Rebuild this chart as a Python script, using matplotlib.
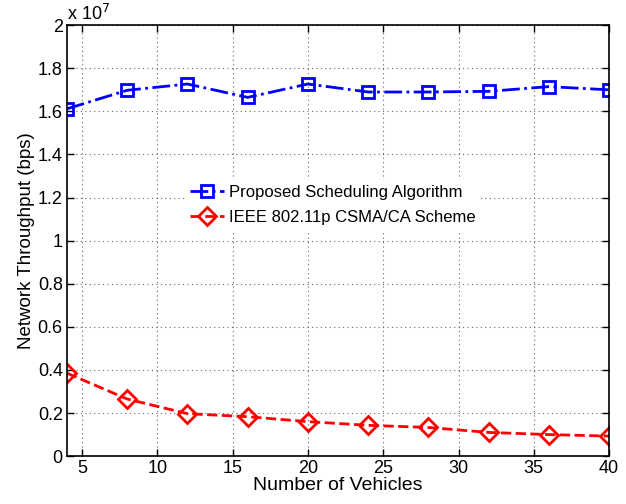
import numpy as np
import matplotlib.pyplot as plt
from matplotlib.ticker import FuncFormatter

plt.rcParams['font.family'] = ['Liberation Sans', 'DejaVu Sans']

# data (throughput in units of 1e7 bps)
vehicles = [4, 8, 12, 16, 20, 24, 28, 32, 36, 40]
proposed = [1.612, 1.698, 1.727, 1.665, 1.727, 1.690, 1.690, 1.693, 1.715, 1.700]
ieee = [0.385, 0.265, 0.197, 0.183, 0.160, 0.143, 0.133, 0.110, 0.100, 0.093]
labels = ['Proposed Scheduling Algorithm', 'IEEE 802.11p CSMA/CA Scheme']

fig = plt.figure(figsize=(6.26, 5.04), dpi=100)
ax = fig.add_axes([0.107, 0.095, 0.866, 0.855])

ax.plot(vehicles, np.array(proposed)*1e7, '-.', color='blue', lw=2,
        marker='s', ms=8, mfc='none', mew=2, label=labels[0])
ax.plot(vehicles, np.array(ieee)*1e7, '--', color='red', lw=2,
        marker='D', ms=9, mfc='none', mew=2, label=labels[1])

ax.set_xlim(4, 40)
ax.set_ylim(0, 2e7)
ax.set_xticks([5, 10, 15, 20, 25, 30, 35, 40])
ax.set_yticks(np.arange(0, 2.01e7, 0.2e7))
ax.yaxis.set_major_formatter(FuncFormatter(lambda v, p: '%g' % round(v/1e7, 1)))
ax.tick_params(direction='in', top=True, right=True, labelsize=13, length=5, width=1)
ax.tick_params(axis='x', pad=3)
ax.tick_params(axis='y', pad=3)
for s in ax.spines.values():
	s.set_linewidth(1.2)
ax.grid(True, linestyle=(0, (1, 3)), color='#666666', lw=0.8)

ax.set_xlabel('Number of Vehicles', fontsize=14, labelpad=0)
ax.set_ylabel('Network Throughput (bps)', fontsize=13.5, labelpad=2)
ax.text(0.0, 1.003, r'x 10$^{7}$', transform=ax.transAxes, fontsize=13, va='bottom', ha='left')

leg = ax.legend(loc='upper left', bbox_to_anchor=(0.203, 0.66), fontsize=12,
                frameon=True, fancybox=False, edgecolor='none', framealpha=1,
                handlelength=2.0, borderpad=0.3, labelspacing=0.6, handletextpad=0.3)

fig.savefig('out.png', dpi=100)
